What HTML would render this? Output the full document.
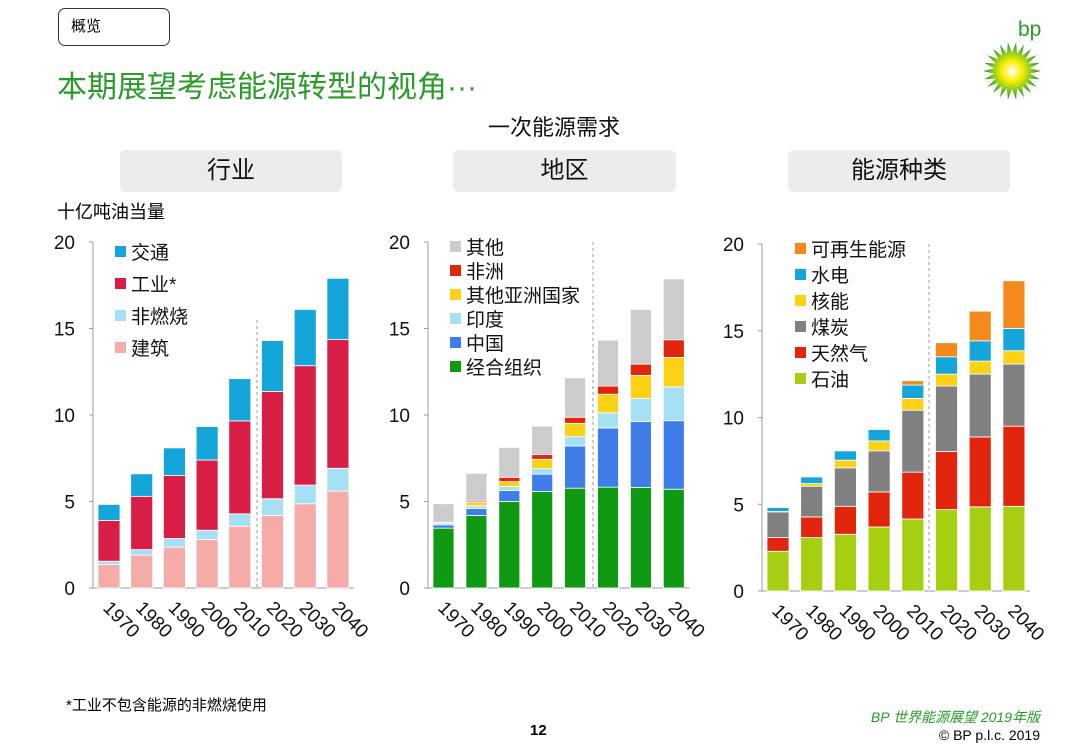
<!DOCTYPE html>
<html><head><meta charset="utf-8">
<style>
body{margin:0;width:1080px;height:748px;background:#fff;overflow:hidden;font-family:"Liberation Sans","Noto Sans CJK SC",sans-serif;position:relative}
.a{position:absolute;white-space:nowrap}
.pill{position:absolute;top:150px;height:42px;background:#ececec;border-radius:6px;font-size:24px;line-height:42px;text-align:center;color:#111}
</style></head><body>
<div class="a" style="left:58px;top:8px;width:112px;height:38px;border:1.5px solid #333;border-radius:7px;box-sizing:border-box;font-size:15px;line-height:36px;padding-left:12px">概览</div>
<div class="a" style="left:57px;top:62px;font-size:30px;color:#2a9a28">本期展望考虑能源转型的视角···</div>
<div class="a" style="left:488px;top:110px;font-size:22px;color:#111">一次能源需求</div>
<div class="pill" style="left:120px;width:222px">行业</div>
<div class="pill" style="left:453px;width:223px">地区</div>
<div class="pill" style="left:788px;width:222px">能源种类</div>
<div class="a" style="left:57px;top:198px;font-size:18px">十亿吨油当量</div>
<div class="a" style="left:66px;top:694px;font-size:15px">*工业不包含能源的非燃烧使用</div>
<div class="a" style="left:530px;top:722px;font-size:15px;font-weight:bold">12</div>
<div class="a" style="right:40px;top:707px;font-size:14px;color:#2a9a28;font-style:italic">BP 世界能源展望 2019年版</div>
<div class="a" style="right:40px;top:727px;font-size:14px">© BP p.l.c. 2019</div>
<div class="a" style="left:1018px;top:18px;font-size:21px;color:#2a9a28">bp</div>
<svg class="a" style="left:980px;top:40px" width="64" height="62" viewBox="-32 -31 64 62">
<defs><radialGradient id="g"><stop offset="0" stop-color="#fff"/><stop offset="0.35" stop-color="#ffef00"/><stop offset="0.6" stop-color="#9fd21c"/><stop offset="1" stop-color="#1b8f2a"/></radialGradient></defs>
<polygon id="star" fill="url(#g)" points=""/>
</svg>
<svg id="charts" class="a" style="left:0;top:0" width="1080" height="748"></svg>
<script>
(function(){var p=[];for(var i=0;i<44;i++){var r=i%2?18:29;var a=i*Math.PI/22;p.push((r*Math.cos(a)).toFixed(1)+','+(r*Math.sin(a)).toFixed(1));}document.getElementById('star').setAttribute('points',p.join(' '));})();

const years=["1970","1980","1990","2000","2010","2020","2030","2040"];
const yTicks=[0,5,10,15,20];
const sectorNames=["建筑","非燃烧","工业*","交通"];
const sectorColors=["#f5aca8","#a6e0f5","#d81e44","#14a5db"];
const sBuild=[1.35,1.9,2.36,2.8,3.57,4.19,4.87,5.6];
const sNonCombust=[0.2,0.32,0.5,0.54,0.72,0.97,1.08,1.32];
const sIndustry=[2.35,3.08,3.64,4.06,5.37,6.2,6.9,7.44];
const sTransport=[0.93,1.3,1.6,1.93,2.44,2.94,3.25,3.54];
const regionNames=["经合组织","中国","印度","其他亚洲国家","非洲","其他"];
const regionColors=["#109a14","#3f7de8","#a6e0f5","#fcd116","#e2260e","#cccccc"];
const rOECD=[3.46,4.19,5.0,5.58,5.77,5.83,5.81,5.71];
const rChina=[0.19,0.41,0.63,1.0,2.44,3.42,3.81,3.96];
const rIndia=[0.1,0.15,0.24,0.32,0.54,0.88,1.34,1.96];
const rOtherAsia=[0.03,0.19,0.28,0.54,0.77,1.07,1.33,1.7];
const rAfrica=[0.02,0.08,0.25,0.27,0.35,0.47,0.65,1.02];
const rOther=[1.07,1.61,1.73,1.64,2.28,2.66,3.16,3.52];
const fuelNames=["石油","天然气","煤炭","核能","水电","可再生能源"];
const fuelColors=["#a5cf10","#e2260e","#808080","#fcd116","#14a5db","#f58a1c"];
const fOil=[2.29,3.08,3.27,3.69,4.15,4.69,4.85,4.88];
const fGas=[0.79,1.19,1.61,2.02,2.7,3.35,4.03,4.62];
const fCoal=[1.48,1.77,2.22,2.37,3.57,3.77,3.62,3.58];
const fNuclear=[0.02,0.15,0.44,0.57,0.68,0.69,0.75,0.77];
const fHydro=[0.23,0.39,0.54,0.66,0.77,1.0,1.17,1.28];
const fRenew=[0.01,0.02,0.03,0.04,0.25,0.81,1.71,2.75];

const svg=document.getElementById('charts');
const NS='http://www.w3.org/2000/svg';
function el(t,a){const e=document.createElementNS(NS,t);for(const k in a)e.setAttribute(k,a[k]);svg.appendChild(e);return e;}
function drawChart(cfg){
  const y=v=>cfg.y0-(cfg.y0-cfg.y20)*v/20;
  const x=i=>cfg.bx+i*cfg.pitch;
  const ax=el('line',{x1:cfg.ax,x2:cfg.ax,y1:cfg.y20,y2:cfg.y0,stroke:'#999','stroke-width':1});
  
  
  const bx=el('line',{x1:cfg.ax,x2:x(7)+cfg.w+5,y1:cfg.y0,y2:cfg.y0,stroke:'#999','stroke-width':1});
  
  
  yTicks.forEach(t=>{
    el('line',{x1:cfg.ax-4,x2:cfg.ax,y1:y(t),y2:y(t),stroke:'#999'});
    const tx=el('text',{x:cfg.ax-18,y:y(t)+7,'text-anchor':'end','font-size':19,fill:'#111'});
    tx.textContent=t;
    
    
  });
  const dl=el('line',{x1:cfg.dash,x2:cfg.dash,y1:cfg.dashTop,y2:cfg.y0,stroke:'#999','stroke-dasharray':'3,3'});
  
  
  years.forEach((yr,i)=>{
    let cum=0;
    cfg.series.forEach((s,k)=>{
      const v=s[i];
      const r=el('rect',{x:x(i),y:y(cum+v),width:cfg.w,height:Math.max(0,y(cum)-y(cum+v)),fill:cfg.colors[k],stroke:'#fff','stroke-width':0.8});
      
      
      cum+=v;
    });
    const lx=x(i)+4, ly=cfg.y0+21;
    const t=el('text',{x:lx,y:ly,'font-size':19,fill:'#111',transform:'rotate(45 '+lx+' '+ly+')'});
    t.textContent=yr;
    
    
  });
  for(let k=cfg.names.length-1;k>=0;k--){
    const j=cfg.names.length-1-k;
    const ly=cfg.legY+j*cfg.legGap;
    const sq=el('rect',{x:cfg.legX,y:ly-6,width:11,height:11,fill:cfg.colors[k]});
    
    
    const t=el('text',{x:cfg.legX+16,y:ly+7,'font-size':19,fill:'#111'});
    t.textContent=cfg.names[k];
    
    
  }
}
drawChart({id:'sector',ax:93,y0:588,y20:242,bx:98,pitch:32.7,w:22,dash:257,dashTop:320,
  series:[sBuild,sNonCombust,sIndustry,sTransport],colors:sectorColors,names:sectorNames,legX:115,legY:252,legGap:32});
drawChart({id:'region',ax:428,y0:588,y20:242,bx:433,pitch:32.9,w:21,dash:593,dashTop:242,
  series:[rOECD,rChina,rIndia,rOtherAsia,rAfrica,rOther],colors:regionColors,names:regionNames,legX:450,legY:247,legGap:24});
drawChart({id:'fuel',ax:762,y0:591,y20:244,bx:767,pitch:33.7,w:22,dash:929,dashTop:244,
  series:[fOil,fGas,fCoal,fNuclear,fHydro,fRenew],colors:fuelColors,names:fuelNames,legX:795,legY:249,legGap:26});
</script>
</body></html>
